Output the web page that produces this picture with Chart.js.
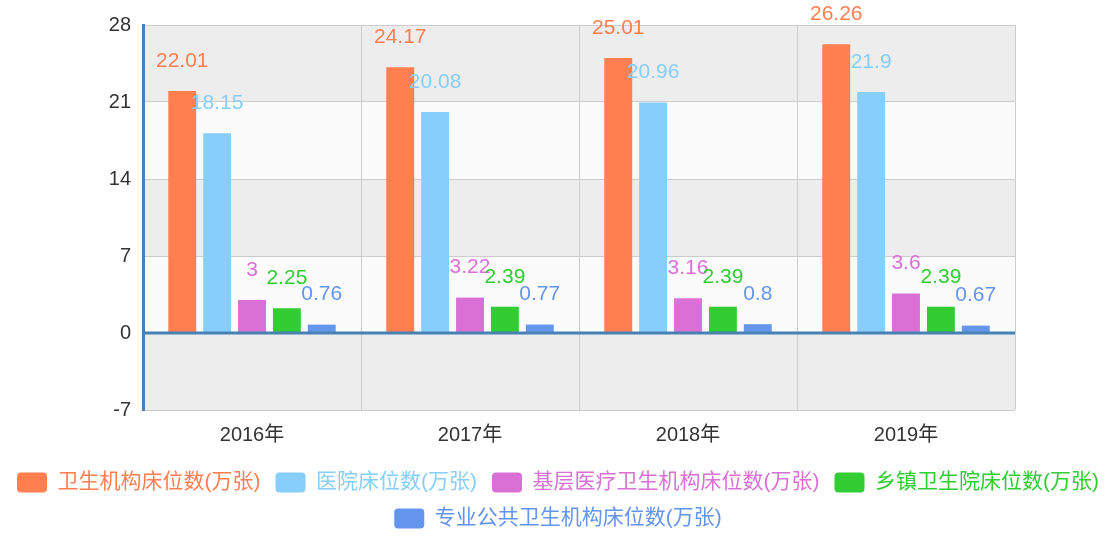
<!DOCTYPE html>
<html>
<head>
<meta charset="utf-8">
<script src="https://cdn.jsdelivr.net/npm/chart.js@4.4.1/dist/chart.umd.min.js"></script>
<style>
    html, body { margin: 0; padding: 0; background: #fff; }
    #wrap { width: 1116px; height: 539px; position: relative; }
</style>
</head>
<body>
<div id="wrap"><canvas id="bedChart"></canvas></div>
<script>
// 卫生机构床位数 - 数据
const YEARS = ['2016年', '2017年', '2018年', '2019年'];
const SERIES_NAMES = [
    '卫生机构床位数(万张)',
    '医院床位数(万张)',
    '基层医疗卫生机构床位数(万张)',
    '乡镇卫生院床位数(万张)',
    '专业公共卫生机构床位数(万张)'
];
const HEALTH_BEDS = [22.01, 24.17, 25.01, 26.26];
const HOSPITAL_BEDS = [18.15, 20.08, 20.96, 21.9];
const PRIMARY_BEDS = [3, 3.22, 3.16, 3.6];
const TOWNSHIP_BEDS = [2.25, 2.39, 2.39, 2.39];
const PUBLIC_BEDS = [0.76, 0.77, 0.8, 0.67];
const Y_MIN = -7;
const Y_MAX = 28;
const Y_STEP = 7;

const COLORS = ['#ff7f50', '#87cefa', '#da70d6', '#32cd32', '#6495ed'];
const AXIS_BLUE = '#4682b4';
const FONT = "'Liberation Sans', 'Noto Sans CJK SC', sans-serif";

// 交替底色 + 零线 + 数值标签
const decorPlugin = {
    id: 'decor',
    beforeDraw(chart) {
        const { ctx, chartArea, scales } = chart;
        const y = scales.y;
        ctx.save();
        for (let v = Y_MIN, i = 0; v < Y_MAX; v += Y_STEP, i++) {
            const top = y.getPixelForValue(v + Y_STEP);
            const bottom = y.getPixelForValue(v);
            ctx.fillStyle = i % 2 === 0 ? '#ededed' : '#fbfbfb';
            ctx.fillRect(chartArea.left, top, chartArea.right - chartArea.left, bottom - top);
        }
        ctx.restore();
    },
    afterDatasetsDraw(chart) {
        const { ctx, chartArea, scales } = chart;
        const zero = scales.y.getPixelForValue(0);
        ctx.save();
        ctx.strokeStyle = AXIS_BLUE;
        ctx.lineWidth = 3;
        ctx.beginPath();
        ctx.moveTo(chartArea.left, zero);
        ctx.lineTo(chartArea.right, zero);
        ctx.stroke();

        ctx.font = `21px ${FONT}`;
        ctx.textAlign = 'center';
        ctx.textBaseline = 'middle';
        chart.data.datasets.forEach((ds, di) => {
            const meta = chart.getDatasetMeta(di);
            if (meta.hidden) return;
            meta.data.forEach((bar, i) => {
                ctx.fillStyle = ds.backgroundColor;
                ctx.fillText(String(ds.data[i]), bar.x, bar.y - 30);
            });
        });
        ctx.restore();
    }
};

const seriesData = [HEALTH_BEDS, HOSPITAL_BEDS, PRIMARY_BEDS, TOWNSHIP_BEDS, PUBLIC_BEDS];

new Chart(document.getElementById('bedChart'), {
    type: 'bar',
    data: {
        labels: YEARS,
        datasets: seriesData.map((d, i) => ({
            label: SERIES_NAMES[i],
            data: d,
            backgroundColor: COLORS[i],
            categoryPercentage: 0.8,
            barPercentage: 0.8
        }))
    },
    options: {
        responsive: true,
        maintainAspectRatio: false,
        animation: false,
        layout: { padding: { top: 25, right: 0, left: 0, bottom: 0 } },
        plugins: {
            tooltip: { enabled: false },
            legend: {
                position: 'bottom',
                labels: {
                    boxWidth: 30,
                    boxHeight: 20,
                    padding: 15,
                    useBorderRadius: true,
                    borderRadius: 4,
                    font: { family: FONT, size: 21 },
                    generateLabels(chart) {
                        return chart.data.datasets.map((ds, i) => ({
                            text: ds.label,
                            fillStyle: ds.backgroundColor,
                            strokeStyle: ds.backgroundColor,
                            fontColor: ds.backgroundColor,
                            lineWidth: 0,
                            borderRadius: 4,
                            hidden: !chart.isDatasetVisible(i),
                            datasetIndex: i
                        }));
                    }
                }
            }
        },
        scales: {
            x: {
                grid: { offset: true, color: '#cccccc', drawTicks: false },
                border: { display: false },
                ticks: { color: '#333', padding: 13, font: { family: FONT, size: 20 } },
                afterFit(scale) { scale.height = 47; }
            },
            y: {
                min: Y_MIN,
                max: Y_MAX,
                ticks: { stepSize: Y_STEP, color: '#333', padding: 12, font: { family: FONT, size: 20 } },
                grid: { color: '#cccccc', drawTicks: false },
                border: { color: AXIS_BLUE, width: 3 },
                afterFit(scale) { scale.width = 143; }
            },
            // 右侧留白
            yRight: {
                type: 'linear',
                position: 'right',
                min: Y_MIN,
                max: Y_MAX,
                grid: { display: false },
                border: { display: false },
                ticks: { display: false },
                afterFit(scale) { scale.width = 101; }
            }
        }
    },
    plugins: [decorPlugin]
});
</script>
</body>
</html>
